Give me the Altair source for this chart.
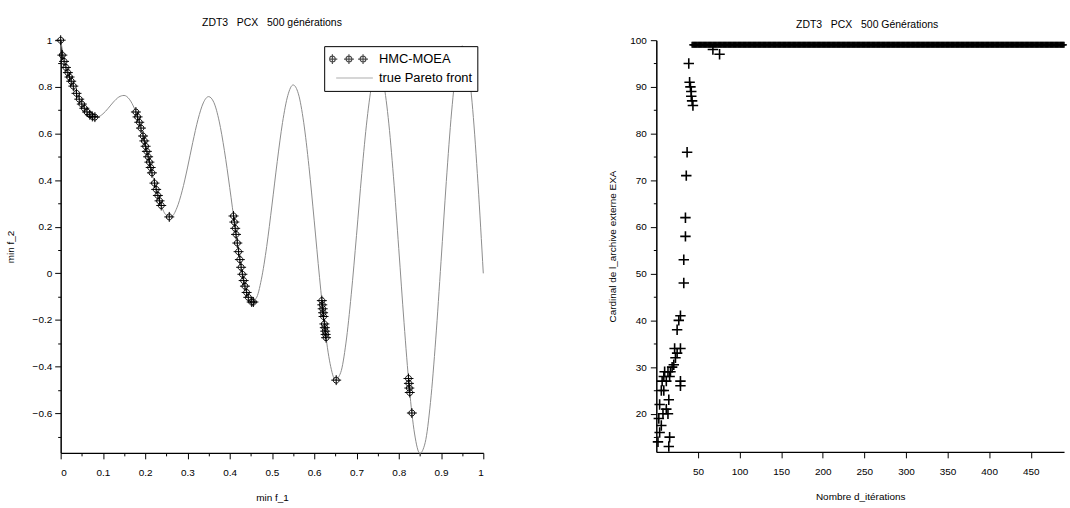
import altair as alt
import pandas as pd

# ---------------- left panel data ----------------
front_f1 = [0.0, 0.0125, 0.025, 0.0375, 0.05, 0.0625, 0.075, 0.0875, 0.1, 0.1125,
            0.125, 0.1375, 0.15, 0.1625, 0.175, 0.1875, 0.2, 0.2125, 0.225, 0.2375,
            0.25, 0.2625, 0.275, 0.2875, 0.3, 0.3125, 0.325, 0.3375, 0.35, 0.3625,
            0.375, 0.3875, 0.4, 0.4125, 0.425, 0.4375, 0.45, 0.4625, 0.475, 0.4875,
            0.5, 0.5125, 0.525, 0.5375, 0.55, 0.5625, 0.575, 0.5875, 0.6, 0.6125,
            0.625, 0.6375, 0.65, 0.6625, 0.675, 0.6875, 0.7, 0.7125, 0.725, 0.7375,
            0.75, 0.7625, 0.775, 0.7875, 0.8, 0.8125, 0.825, 0.8375, 0.85, 0.8625,
            0.875, 0.8875, 0.9, 0.9125, 0.925, 0.9375, 0.95, 0.9625, 0.975, 0.9875, 1.0]
front_f2 = [1.0, 0.883, 0.824, 0.772, 0.726, 0.692, 0.673, 0.671, 0.684, 0.708,
            0.735, 0.756, 0.763, 0.747, 0.705, 0.639, 0.553, 0.458, 0.367, 0.293,
            0.250, 0.245, 0.281, 0.354, 0.452, 0.561, 0.660, 0.731, 0.758, 0.733,
            0.653, 0.526, 0.368, 0.200, 0.048, -0.066, -0.121, -0.107, -0.025, 0.115,
            0.293, 0.480, 0.647, 0.763, 0.808, 0.770, 0.648, 0.458, 0.225, -0.017,
            -0.233, -0.387, -0.456, -0.426, -0.299, -0.092, 0.163, 0.429, 0.661, 0.823,
            0.884, 0.831, 0.668, 0.414, 0.106, -0.212, -0.492, -0.689, -0.772, -0.726,
            -0.554, -0.282, 0.051, 0.394, 0.692, 0.898, 0.975, 0.908, 0.702, 0.384, 0.0]

hmc_f1 = [0.0, 0.004, 0.008, 0.0125, 0.017, 0.021, 0.025, 0.03, 0.0375, 0.044, 0.05, 0.056, 0.0625, 0.069, 0.075, 0.081,
          0.178, 0.182, 0.186, 0.19, 0.195, 0.198, 0.201, 0.204, 0.207, 0.21, 0.213, 0.216, 0.222, 0.226, 0.23, 0.234, 0.238, 0.257,
          0.409, 0.411, 0.413, 0.415, 0.418, 0.421, 0.424, 0.427, 0.43, 0.433, 0.436, 0.44, 0.444, 0.452, 0.456,
          0.618, 0.619, 0.62, 0.621, 0.622, 0.624, 0.625, 0.626, 0.627, 0.628, 0.652,
          0.823, 0.824, 0.825, 0.826, 0.831]
hmc_f2 = [1.0, 0.936, 0.909, 0.883, 0.861, 0.842, 0.824, 0.803, 0.772, 0.747, 0.726, 0.708, 0.692, 0.680, 0.673, 0.670,
          0.692, 0.671, 0.648, 0.623, 0.589, 0.568, 0.545, 0.523, 0.500, 0.477, 0.454, 0.431, 0.387, 0.360, 0.334, 0.311, 0.291, 0.242,
          0.246, 0.220, 0.193, 0.167, 0.130, 0.093, 0.059, 0.026, -0.004, -0.031, -0.055, -0.082, -0.103, -0.123, -0.123,
          -0.117, -0.135, -0.152, -0.169, -0.185, -0.217, -0.233, -0.248, -0.262, -0.276, -0.458,
          -0.451, -0.472, -0.492, -0.511, -0.599]

series_names = ["HMC-MOEA", "true Pareto front"]

left_x_ticks = [0.0, 0.05, 0.1, 0.15, 0.2, 0.25, 0.3, 0.35, 0.4, 0.45, 0.5,
                0.55, 0.6, 0.65, 0.7, 0.75, 0.8, 0.85, 0.9, 0.95, 1.0]
left_y_ticks = [-0.7, -0.6, -0.5, -0.4, -0.3, -0.2, -0.1, 0.0, 0.1, 0.2,
                0.3, 0.4, 0.5, 0.6, 0.7, 0.8, 0.9, 1.0]

# ---------------- right panel data ----------------
exa_iter = [2, 4, 6, 3, 4, 8, 14, 12, 16, 15,
            15, 6, 9, 7, 12, 9, 16, 10, 14, 17,
            19, 21, 23, 25, 22, 29, 25, 27, 29, 29,
            29, 33, 33, 35, 35, 36, 37, 39, 40, 41,
            42, 42, 43, 44, 68, 76]
exa_card = [14, 16, 17.5, 19, 22, 20, 20, 21, 15, 13,
            23, 25, 25, 27, 27, 28, 28, 29, 29, 29,
            30, 30.5, 32, 33, 34, 34, 38, 40, 41, 27,
            26, 48, 53, 58, 62, 71, 76, 95, 91, 90,
            89, 88, 87, 86, 98, 97]
band_iter = list(range(43, 491))
band_card = [99] * len(band_iter)

right_x_ticks = [50, 100, 150, 200, 250, 300, 350, 400, 450]
right_y_ticks = [15, 20, 25, 30, 35, 40, 45, 50, 55, 60, 65, 70, 75, 80, 85, 90, 95, 100]

FONT = "Liberation Sans"

# ---------------- shapes ----------------
OPLUS = ("M-0.75,0A0.75,0.75 0 1,0 0.75,0A0.75,0.75 0 1,0 -0.75,0"
         "M-1.25,0L1.25,0M0,-1.25L0,1.25")
PLUS = "M-1,0L1,0M0,-1L0,1"


def oplus_at(cx, r=0.13, a=0.22):
    return (f"M{cx - r:.3f},0A{r},{r} 0 1,0 {cx + r:.3f},0A{r},{r} 0 1,0 {cx - r:.3f},0"
            f"M{cx - a:.3f},0L{cx + a:.3f},0M{cx:.3f},-{a}L{cx:.3f},{a}")


LEG_TRIPLE = oplus_at(-0.9) + oplus_at(-0.16) + oplus_at(0.47)
LEG_LINE = "M-0.73,0L0.91,0"

front_df = pd.DataFrame({"f1": front_f1, "f2": front_f2})
hmc_df = pd.DataFrame({"f1": hmc_f1, "f2": hmc_f2})
leg_df = pd.DataFrame({"series": series_names})

xs = alt.Scale(domain=[0, 1], nice=False, zero=False)
ys = alt.Scale(domain=[-0.77, 1.0], nice=False, zero=False)

major10 = "abs(datum.value*10 - round(datum.value*10)) < 0.001"
major5 = "abs(datum.value*5 - round(datum.value*5)) < 0.001"

axis_common = dict(grid=False, domainColor="black", domainWidth=1.5, tickColor="black",
                   tickWidth=1, labelColor="black", labelFont=FONT, labelFontSize=10,
                   titleFont=FONT, titleFontSize=10, titleFontWeight="normal",
                   titleColor="black")

x_left = alt.X("f1:Q", scale=xs, title="min f_1",
               axis=alt.Axis(values=left_x_ticks, format=".1~f",
                             labelExpr=f"{major10} ? datum.label : ''",
                             tickSize={"condition": {"test": major10, "value": 6}, "value": 3},
                             labelPadding=9, titlePadding=15, **axis_common))
y_left = alt.Y("f2:Q", scale=ys, title="min f_2",
               axis=alt.Axis(values=left_y_ticks, format=".1~f",
                             labelExpr=f"{major5} ? datum.label : ''",
                             tickSize={"condition": {"test": major5, "value": 6}, "value": 3},
                             labelPadding=3, titlePadding=17, **axis_common))

line = alt.Chart(front_df).mark_line(color="#8c8c8c", strokeWidth=1,
                                     interpolate="monotone").encode(x=x_left, y=y_left)
pts = alt.Chart(hmc_df).mark_point(shape=OPLUS, size=64, filled=False, color="black",
                                   strokeWidth=1, opacity=1).encode(x=x_left, y=y_left)

legend = alt.Legend(title=None, orient="top-right", offset=6, fillColor="white",
                    strokeColor="black", padding=5, symbolSize=2025, clipHeight=16,
                    rowPadding=3, labelOffset=3, labelFont=FONT, labelFontSize=13,
                    labelColor="black", symbolStrokeWidth=1.2)
dummy = alt.Chart(leg_df).mark_point(filled=False, clip=True).encode(
    x=alt.value(-200), y=alt.value(-200),
    color=alt.Color("series:N", scale=alt.Scale(domain=series_names, range=["black", "#8c8c8c"]),
                    legend=legend),
    shape=alt.Shape("series:N", scale=alt.Scale(domain=series_names, range=[LEG_TRIPLE, LEG_LINE]),
                    legend=legend),
)

left = alt.layer(line, pts, dummy).properties(
    width=425, height=415,
    title=alt.TitleParams("ZDT3\u00a0\u00a0 PCX\u00a0\u00a0 500 générations", font=FONT,
                          fontSize=10.5, fontWeight="normal", color="black", offset=5),
)

# ---------------- right panel ----------------
exa_df = pd.DataFrame({"it": exa_iter, "card": exa_card})
band_df = pd.DataFrame({"it": band_iter, "card": band_card})

xr = alt.Scale(domain=[0, 490], nice=False, zero=False)
yr = alt.Scale(domain=[11.85, 100], nice=False, zero=False)

x_right = alt.X("it:Q", scale=xr, title="Nombre d_itérations",
                axis=alt.Axis(values=right_x_ticks, tickSize=6, labelPadding=9,
                              titlePadding=15, **axis_common))
y_right = alt.Y("card:Q", scale=yr, title="Cardinal de l_archive externe EXA",
                axis=alt.Axis(values=right_y_ticks,
                              labelExpr="datum.value % 10 == 0 ? datum.label : ''",
                              tickSize={"condition": {"test": "datum.value % 10 == 0", "value": 6},
                                        "value": 3},
                              labelPadding=4, titlePadding=12, **axis_common))

band = alt.Chart(band_df).mark_point(shape=PLUS, size=36, filled=False, color="black",
                                     strokeWidth=1.4, opacity=1).encode(x=x_right, y=y_right)
plus = alt.Chart(exa_df).mark_point(shape=PLUS, size=110, filled=False, color="black",
                                    strokeWidth=1.6, opacity=1).encode(x=x_right, y=y_right)

right = alt.layer(band, plus).properties(
    width=410, height=414,
    title=alt.TitleParams("ZDT3\u00a0\u00a0 PCX\u00a0\u00a0 500 Générations", font=FONT,
                          fontSize=10.5, fontWeight="normal", color="black", offset=5, dx=7),
)

chart = alt.hconcat(left, right, spacing=123).resolve_scale(
    color="independent", shape="independent"
).resolve_legend(
    color="independent", shape="independent"
).properties(
    padding={"left": 5, "top": 16, "right": 0, "bottom": 0},
    background="white",
).configure_view(stroke=None)

chart.save("out.html", embed_options={"renderer": "svg", "actions": False})
